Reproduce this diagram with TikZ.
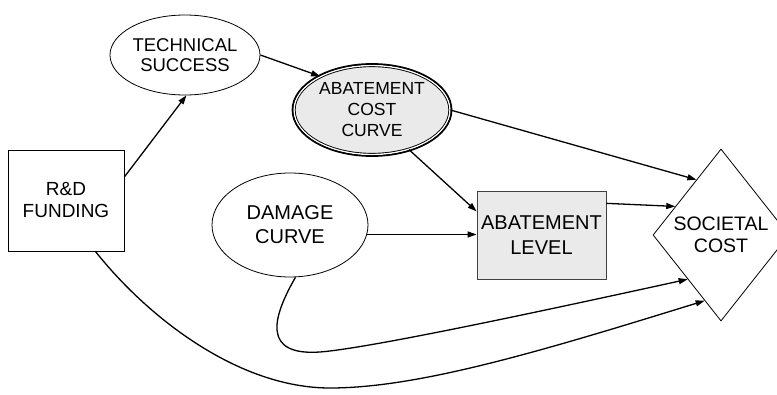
\documentclass[tikz,border=0pt]{standalone}
\usepackage{fontspec}
\setmainfont{Liberation Sans}
\usetikzlibrary{shapes.geometric,arrows.meta}
\definecolor{boxgray}{HTML}{EAEAEA}
\tikzset{
  arr/.style={line width=1.3pt,-{Triangle[length=9pt,width=6pt]}},
  oval/.style={ellipse,draw,line width=0.8pt,inner sep=0pt,align=center,font=\fontsize{19}{22}\selectfont},
  sqbox/.style={rectangle,draw,line width=0.8pt,inner sep=0pt,align=center,font=\fontsize{19}{22}\selectfont}
}
\begin{document}
\begin{tikzpicture}[x=1pt,y=-1pt]
\useasboundingbox (0,0) rectangle (777,394);
\node[sqbox,minimum width=116pt,minimum height=101pt] (rd) at (66,200.5) {R\&D\\FUNDING};
\node[oval,minimum width=150pt,minimum height=80pt,font=\fontsize{18.5}{20.5}\selectfont] (ts) at (185,55) {TECHNICAL\\SUCCESS};
\node[ellipse,draw,fill=boxgray,line width=0.9pt,double=white,double distance=1.4pt,inner sep=0pt,align=center,
      minimum width=156pt,minimum height=89pt,font=\fontsize{17.5}{21}\selectfont] (acc) at (372,110) {ABATEMENT\\COST\\CURVE};
\draw[line width=1.6pt] (acc.center) ellipse [x radius=79.6pt, y radius=46.1pt];
\node[oval,minimum width=156pt,minimum height=104pt,font=\fontsize{20}{24}\selectfont] (dc) at (290,225) {DAMAGE\\CURVE};
\node[sqbox,draw=black!75,fill=boxgray,minimum width=129pt,minimum height=88pt,font=\fontsize{20}{25}\selectfont] (al) at (541.5,235) {ABATEMENT\\LEVEL};
\node[diamond,draw,line width=0.8pt,inner sep=0pt,align=center,minimum width=136pt,minimum height=172pt,
      font=\fontsize{19.5}{22}\selectfont] (sc) at (721,235) {SOCIETAL\\COST};
\draw[arr] (rd.22) -- (ts.272);
\draw[arr] (ts.east) -- (acc.147);
\draw[arr] (acc.east) -- (sc.114);
\draw[arr] (acc.-47) -- (al.160);
\draw[arr] (dc.-7) -- (dc.-7 -| al.west);
\draw[arr] (al.26) -- (sc.148);
\draw[arr] (dc.-84) .. controls (272,318) and (262,356) .. (320,352)
   .. controls (370,348) and (538,312) .. (sc.233);
\draw[arr] (rd.-60) .. controls (150,320) and (240,388) .. (330,388)
   .. controls (420,388) and (545,350) .. (sc.256);
\end{tikzpicture}
\end{document}
